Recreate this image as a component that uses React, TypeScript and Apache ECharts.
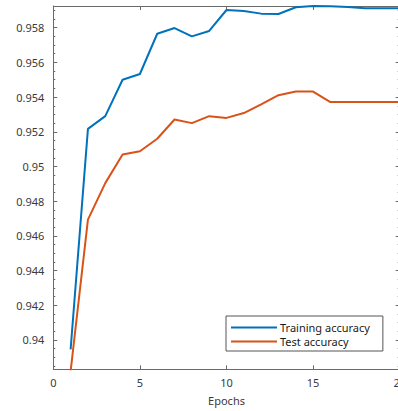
import React, { useEffect, useRef } from "react";
import * as echarts from "echarts";

const epochs = [1, 2, 3, 4, 5, 6, 7, 8, 9, 10, 11, 12, 13, 14, 15, 16, 17, 18, 19, 20];
const trainAcc = [0.93946, 0.95217, 0.9529, 0.955, 0.95533, 0.95765, 0.95798, 0.9575, 0.95781, 0.95902, 0.95896, 0.95881, 0.95879, 0.95918, 0.95925, 0.95923, 0.95919, 0.95912, 0.95912, 0.95912];
const testAcc = [0.9382, 0.94694, 0.94904, 0.95069, 0.95088, 0.9516, 0.95271, 0.9525, 0.9529, 0.9528, 0.95308, 0.95358, 0.95411, 0.95432, 0.95432, 0.95371, 0.95371, 0.95371, 0.95371, 0.95371];
const yTicks = [0.94, 0.942, 0.944, 0.946, 0.948, 0.95, 0.952, 0.954, 0.956, 0.958];
const yMin = 0.93831;
const yMax = 0.95925;
const xTicksInterval = 5;

const FONT = "Noto Sans";
const AXIS_COLOR = "#6a6a6a";
const LABEL_COLOR = "#3a3a3a";

function minorValues(): number[] {
  const out: number[] = [];
  for (let i = 18765; i <= 19185; i += 1) {
    const v = i * 0.00005;
    if (i % 10 === 0) {
      const isMajor = i % 40 === 0;
      if (!isMajor && v >= yMin && v <= yMax) out.push(Math.round(v * 10000) / 10000);
    }
  }
  return out;
}

export default function App() {
  const ref = useRef<HTMLDivElement>(null);
  useEffect(() => {
    if (!ref.current) return;
    const chart = echarts.init(ref.current, null, { renderer: "svg" });
    const minors = minorValues();
    const baseY = (position: "left" | "right", values: number[], len: number, labels: boolean, line: boolean) => ({
      type: "value",
      position,
      min: yMin,
      max: yMax,
      axisLine: { show: line, onZero: false, lineStyle: { color: AXIS_COLOR, width: 1 } },
      axisTick: { show: true, inside: true, length: len, customValues: values, lineStyle: { color: AXIS_COLOR, width: 1 } },
      axisLabel: labels
        ? { show: true, customValues: yTicks, margin: 9, color: LABEL_COLOR, fontSize: 11, fontFamily: FONT, formatter: (v: number) => String(Math.round(v * 1000) / 1000) }
        : { show: false },
      splitLine: { show: false },
    });
    chart.setOption({
      animation: false,
      grid: { left: 53.3, top: 6, width: 346.4, height: 363.3, containLabel: false, outerBoundsMode: "none" },
      xAxis: [
        {
          type: "value",
          position: "bottom",
          min: 0,
          max: 20,
          interval: xTicksInterval,
          name: "Epochs",
          nameLocation: "middle",
          nameGap: 26,
          nameTextStyle: { color: LABEL_COLOR, fontSize: 11, fontFamily: FONT },
          axisLine: { show: true, onZero: false, lineStyle: { color: AXIS_COLOR, width: 1 } },
          axisTick: { show: true, inside: true, length: 4, lineStyle: { color: AXIS_COLOR } },
          axisLabel: { show: true, margin: 8, color: LABEL_COLOR, fontSize: 11, fontFamily: FONT, showMaxLabel: true, showMinLabel: true },
          splitLine: { show: false },
        },
        {
          type: "value",
          position: "top",
          min: 0,
          max: 20,
          interval: xTicksInterval,
          axisLine: { show: true, onZero: false, lineStyle: { color: AXIS_COLOR, width: 1 } },
          axisTick: { show: true, inside: true, length: 4, lineStyle: { color: AXIS_COLOR } },
          axisLabel: { show: false },
          splitLine: { show: false },
        },
      ],
      yAxis: [
        baseY("left", yTicks, 4, true, true),
        baseY("left", minors, 2, false, false),
        baseY("right", yTicks, 4, false, true),
        baseY("right", minors, 2, false, false),
      ],
      legend: {
        show: true,
        orient: "vertical",
        left: 226,
        top: 316,
        padding: [6, 13, 4, 5],
        itemGap: 3,
        itemWidth: 46,
        itemHeight: 2,
        icon: "rect",
        borderColor: "#555",
        borderWidth: 1,
        backgroundColor: "#fff",
        borderRadius: 0,
        textStyle: { color: "#1a1a1a", fontSize: 11, fontFamily: FONT, padding: [0, 0, 0, -2] },
        data: ["Training accuracy", "Test accuracy"],
      },
      series: [
        {
          name: "Training accuracy",
          type: "line",
          data: epochs.map((e, i) => [e, trainAcc[i]]),
          showSymbol: false,
          symbol: "none",
          clip: true,
          color: "#0072BD",
          lineStyle: { color: "#0072BD", width: 2 },
          xAxisIndex: 0,
          yAxisIndex: 0,
        },
        {
          name: "Test accuracy",
          type: "line",
          data: epochs.map((e, i) => [e, testAcc[i]]),
          showSymbol: false,
          symbol: "none",
          clip: true,
          color: "#D95319",
          lineStyle: { color: "#D95319", width: 2 },
          xAxisIndex: 0,
          yAxisIndex: 0,
        },
      ],
    });
    return () => chart.dispose();
  }, []);
  return (
    <div
      ref={ref}
      style={{ position: "fixed", left: 0, top: 0, width: 398, height: 411, background: "#fff" }}
    />
  );
}
